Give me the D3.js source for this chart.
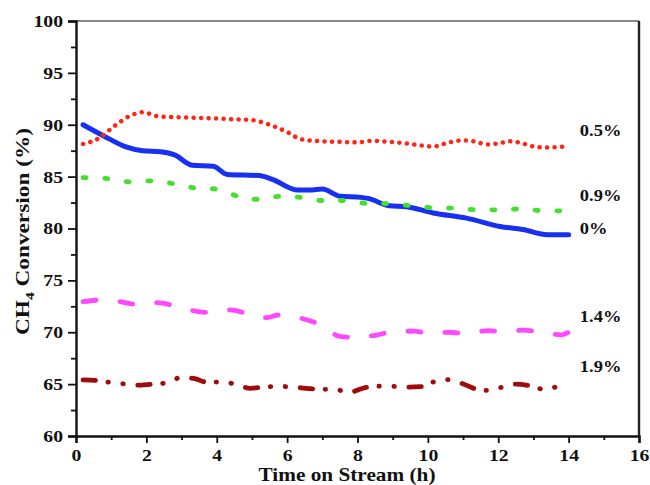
<!DOCTYPE html>
<html>
<head>
<meta charset="utf-8">
<script src="https://cdn.jsdelivr.net/npm/d3@7"></script>
<style>
  body { margin: 0; background: #fff; }
  svg text { font-family: "Liberation Serif", "Times New Roman", serif; font-weight: bold; fill: #111; }
</style>
</head>
<body>
<div id="chart"></div>
<script>
// hours and CH4 conversion (%) for each catalyst loading
const h0 = [0.2, 0.8, 1.4, 1.9, 2.4, 2.8, 3.3, 3.9, 4.3, 5.2, 5.6, 6.3, 6.65, 7.0, 7.5, 8.1, 8.3, 8.9, 9.4, 10.15, 11.1, 12.05, 12.7, 13.4, 14.0]
const v0 = [90.0, 88.9, 87.9, 87.5, 87.4, 87.1, 86.1, 86.0, 85.2, 85.1, 84.7, 83.7, 83.7, 83.8, 83.1, 83.0, 82.9, 82.2, 82.1, 81.5, 81.0, 80.2, 79.9, 79.4, 79.4]

const h05 = [0.2, 0.65, 1.1, 1.5, 1.9, 2.35, 3.1, 4.0, 4.3, 5.0, 5.5, 6.0, 6.4, 7.0, 7.5, 8.0, 8.4, 8.9, 9.4, 9.8, 10.15, 10.6, 11.0, 11.3, 11.7, 12.0, 12.35, 12.7, 13.0, 13.4, 13.9]
const v05 = [88.15, 88.7, 89.9, 90.8, 91.2, 90.8, 90.7, 90.6, 90.55, 90.45, 90.0, 89.3, 88.6, 88.4, 88.35, 88.3, 88.45, 88.35, 88.2, 88.0, 87.9, 88.3, 88.5, 88.4, 88.1, 88.2, 88.4, 88.2, 87.9, 87.8, 87.9]

const h09 = [0.2, 0.9, 1.5, 2.15, 2.8, 3.4, 4.0, 4.6, 5.2, 5.8, 6.4, 7.0, 7.7, 8.3, 8.9, 9.5, 10.15, 10.8, 11.4, 12.05, 12.7, 13.3, 13.9]
const v09 = [84.9, 84.8, 84.5, 84.6, 84.3, 83.9, 83.8, 83.1, 82.8, 83.1, 83.0, 82.7, 82.7, 82.4, 82.4, 82.2, 82.0, 81.95, 81.8, 81.8, 81.9, 81.7, 81.7]

const h14 = [0.2, 0.7, 1.25, 1.7, 2.3, 2.75, 3.3, 3.8, 4.4, 4.85, 5.4, 5.75, 6.45, 6.9, 7.5, 7.9, 8.5, 9.0, 9.6, 10.05, 10.6, 11.1, 11.7, 12.15, 12.7, 13.2, 13.8, 14.0]
const v14 = [72.95, 73.1, 72.95, 72.7, 72.85, 72.6, 72.1, 71.9, 72.15, 71.8, 71.4, 71.65, 71.3, 70.8, 69.6, 69.5, 69.7, 70.05, 70.1, 69.9, 70.0, 69.9, 70.15, 70.05, 70.2, 70.0, 69.75, 70.0]

const h19 = [0.2, 0.6, 1.0, 1.45, 1.8, 2.2, 2.6, 3.0, 3.4, 3.7, 4.2, 4.6, 4.95, 5.3, 5.75, 6.2, 6.55, 6.95, 7.35, 7.75, 8.15, 8.55, 8.9, 9.35, 9.8, 10.15, 10.5, 10.9, 11.4, 11.7, 12.1, 12.5, 12.95, 13.3, 13.7]
const v19 = [65.4, 65.35, 65.15, 65.0, 64.9, 65.0, 65.15, 65.65, 65.5, 65.2, 65.2, 64.9, 64.6, 64.7, 64.8, 64.7, 64.6, 64.5, 64.5, 64.2, 64.6, 64.8, 64.8, 64.7, 64.75, 65.2, 65.45, 65.15, 64.5, 64.4, 64.7, 65.0, 64.8, 64.5, 64.8]

const seriesNames = ["0%", "0.5%", "0.9%", "1.4%", "1.9%"]
const labelY = [79.47, 88.9, 82.68, 71.02, 66.2]
const labelX = 14.32

const xTicks = [0, 2, 4, 6, 8, 10, 12, 14, 16]
const yTicks = [60, 65, 70, 75, 80, 85, 90, 95, 100]

const MARGINS = {left: 76, right: 11, top: 21, bottom: 49}
const WIDTH = 650
const HEIGHT = 485
const STRETCH = 1.16 // the source figure is a bit wider than tall

const svg = d3.select("#chart").append("svg")
  .attr("width", WIDTH)
  .attr("height", HEIGHT)

const innerW = WIDTH - MARGINS.left - MARGINS.right
const innerH = HEIGHT - MARGINS.top - MARGINS.bottom

const x = d3.scaleLinear().domain([0, 16]).range([0, innerW])
const y = d3.scaleLinear().domain([60, 100]).range([innerH, 0])

const g = svg.append("g")
  .attr("transform", `translate(${MARGINS.left},${MARGINS.top})`)

function widen(sel, k) {
  sel.each(function() {
    const len = this.getComputedTextLength()
    d3.select(this)
      .attr("textLength", len * k)
      .attr("lengthAdjust", "spacingAndGlyphs")
  })
}

// series styles
const styles = [
  {h: h0,  v: v0,  color: "#1830f0", width: 5,   dash: null},
  {h: h05, v: v05, color: "#ff2414", width: 4.5, dash: "0.1 7.4"},
  {h: h09, v: v09, color: "#44e02c", width: 4.8, dash: "3 18.7"},
  {h: h14, v: v14, color: "#ff48ff", width: 4.8, dash: "13 24"},
  {h: h19, v: v19, color: "#9e0c0c", width: 4.8, dash: "12.5 12.5 0.5 14.5 0.5 14.5"}
]

const line = d3.line()
  .x((d) => x(d[0]))
  .y((d) => y(d[1]))
  .curve(d3.curveMonotoneX)

styles.forEach((s) => {
  g.append("path")
    .datum(d3.zip(s.h, s.v))
    .attr("fill", "none")
    .attr("stroke", s.color)
    .attr("stroke-width", s.width)
    .attr("stroke-linecap", "round")
    .attr("stroke-linejoin", "round")
    .attr("stroke-dasharray", s.dash)
    .attr("d", line)
})

// frame: thin top, heavier right
g.append("line").attr("x1", 0).attr("x2", innerW).attr("y1", 0).attr("y2", 0)
  .attr("stroke", "#111").attr("stroke-width", 1.2)
g.append("line").attr("x1", innerW).attr("x2", innerW).attr("y1", 0).attr("y2", innerH)
  .attr("stroke", "#222").attr("stroke-width", 2.4)

// axes
const xAxis = g.append("g")
  .attr("transform", `translate(0,${innerH})`)
  .call(d3.axisBottom(x).tickValues(xTicks).tickFormat(d3.format("d")).tickSize(7).tickPadding(6))
const xMinor = g.append("g")
  .attr("transform", `translate(0,${innerH})`)
  .call(d3.axisBottom(x).tickValues(d3.range(1, 16, 2)).tickFormat("").tickSize(4))

const yAxis = g.append("g")
  .call(d3.axisLeft(y).tickValues(yTicks).tickFormat(d3.format("d")).tickSize(8).tickPadding(5))
const yMinor = g.append("g")
  .call(d3.axisLeft(y).tickValues(d3.range(62.5, 100, 5)).tickFormat("").tickSize(5))

;[xAxis, xMinor, yAxis, yMinor].forEach((a) => {
  a.select(".domain").attr("stroke", "#111").attr("stroke-width", 2.4)
  a.selectAll(".tick line").attr("stroke", "#111").attr("stroke-width", 1.8)
})
xAxis.selectAll("text").attr("font-size", "17px").attr("fill", "#111").call(widen, STRETCH)
yAxis.selectAll("text").attr("font-size", "17px").attr("fill", "#111").call(widen, STRETCH)
xMinor.select(".domain").remove()
yMinor.select(".domain").remove()

// series labels
g.selectAll("text.series-label")
  .data(seriesNames).enter()
  .append("text")
  .classed("series-label", true)
  .attr("x", x(labelX))
  .attr("y", (_, i) => y(labelY[i]))
  .attr("font-size", "16.5px")
  .text((d) => d)
  .call(widen, 1.12)

// axis titles
svg.append("text")
  .attr("x", 347)
  .attr("y", 481)
  .attr("text-anchor", "middle")
  .attr("font-size", "19px")
  .attr("textLength", 177)
  .attr("lengthAdjust", "spacingAndGlyphs")
  .text("Time on Stream (h)")

const yTitle = svg.append("text")
  .attr("transform", `translate(29,${MARGINS.top + innerH / 2 + 3}) rotate(-90)`)
  .attr("text-anchor", "middle")
  .attr("font-size", "19px")
yTitle.append("tspan").text("CH")
yTitle.append("tspan").attr("font-size", "12.5px").attr("dy", 5).text("4")
yTitle.append("tspan").attr("dy", -5).text(" Conversion (%)")
yTitle.attr("textLength", 207).attr("lengthAdjust", "spacingAndGlyphs")
</script>
</body>
</html>
